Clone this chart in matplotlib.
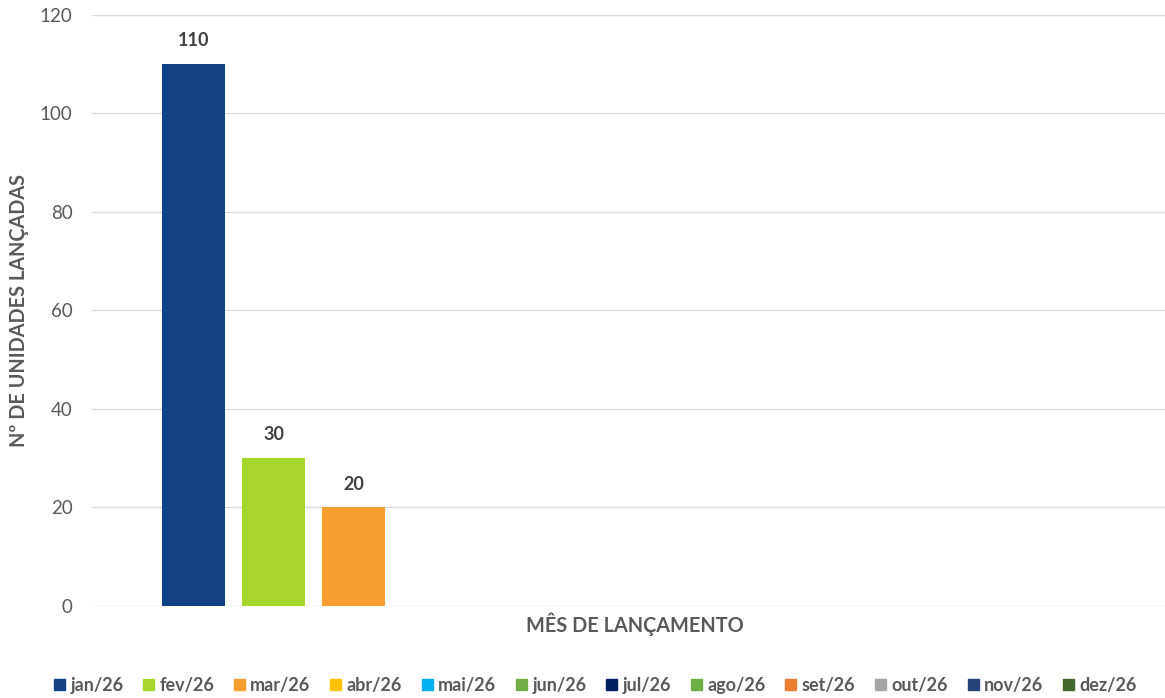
import numpy as np
import matplotlib.pyplot as plt

# dados
months = ['jan/26', 'fev/26', 'mar/26', 'abr/26', 'mai/26', 'jun/26',
          'jul/26', 'ago/26', 'set/26', 'out/26', 'nov/26', 'dez/26']
units = [110, 30, 20, 0, 0, 0, 0, 0, 0, 0, 0, 0]
colors = ['#134185', '#A6D52B', '#F79E2E', '#FFC000', '#00B0F0', '#70AD47',
          '#002060', '#6DAE45', '#ED7D31', '#A5A5A5', '#264478', '#43682B']
yticks = [0, 20, 40, 60, 80, 100, 120]

plt.rcParams['font.family'] = ['Lato', 'DejaVu Sans']

fig = plt.figure(figsize=(11.65, 6.98), dpi=100)
ax = fig.add_axes([0.079, 0.132, 0.921, 0.8465])

x = np.arange(len(months))
bars = ax.bar(x, units, width=0.7875, color=colors, linewidth=0)
for b, v in zip(bars, units):
    if v:
        ax.text(b.get_x() + b.get_width() / 2, v + 3, str(v), ha='center',
                va='bottom', fontsize=13, fontweight='bold', color='#404040')

ax.set_xlim(-1.26875, 12.14)
ax.set_ylim(0, 120)
ax.set_yticks(yticks)
ax.set_xticks([])
ax.grid(axis='y', color='#D9D9D9', linewidth=1)
ax.set_axisbelow(True)
for s in ax.spines.values():
    s.set_visible(False)
ax.tick_params(axis='y', length=0, labelsize=13.5, labelcolor='#595959', pad=14)

ax.set_ylabel('Nº DE UNIDADES LANÇADAS', fontsize=14.3, fontweight='bold',
              color='#595959', labelpad=8)
ax.set_xlabel('MÊS DE LANÇAMENTO', fontsize=14.3, fontweight='bold',
              color='#595959', labelpad=5)
ax.xaxis.label.set_x(0.506)

handles = [plt.Rectangle((0, 0), 1, 1, color=c) for c in colors]
leg = fig.legend(handles, months, loc='center', bbox_to_anchor=(0.511, 0.018),
                 ncol=12, frameon=False, handlelength=0.6, handleheight=0.6,
                 handletextpad=0.3, columnspacing=1.1,
                 prop={'size': 13, 'weight': 'bold'})
for t in leg.get_texts():
    t.set_color('#595959')

fig.savefig('out.png', dpi=100, facecolor='white')
